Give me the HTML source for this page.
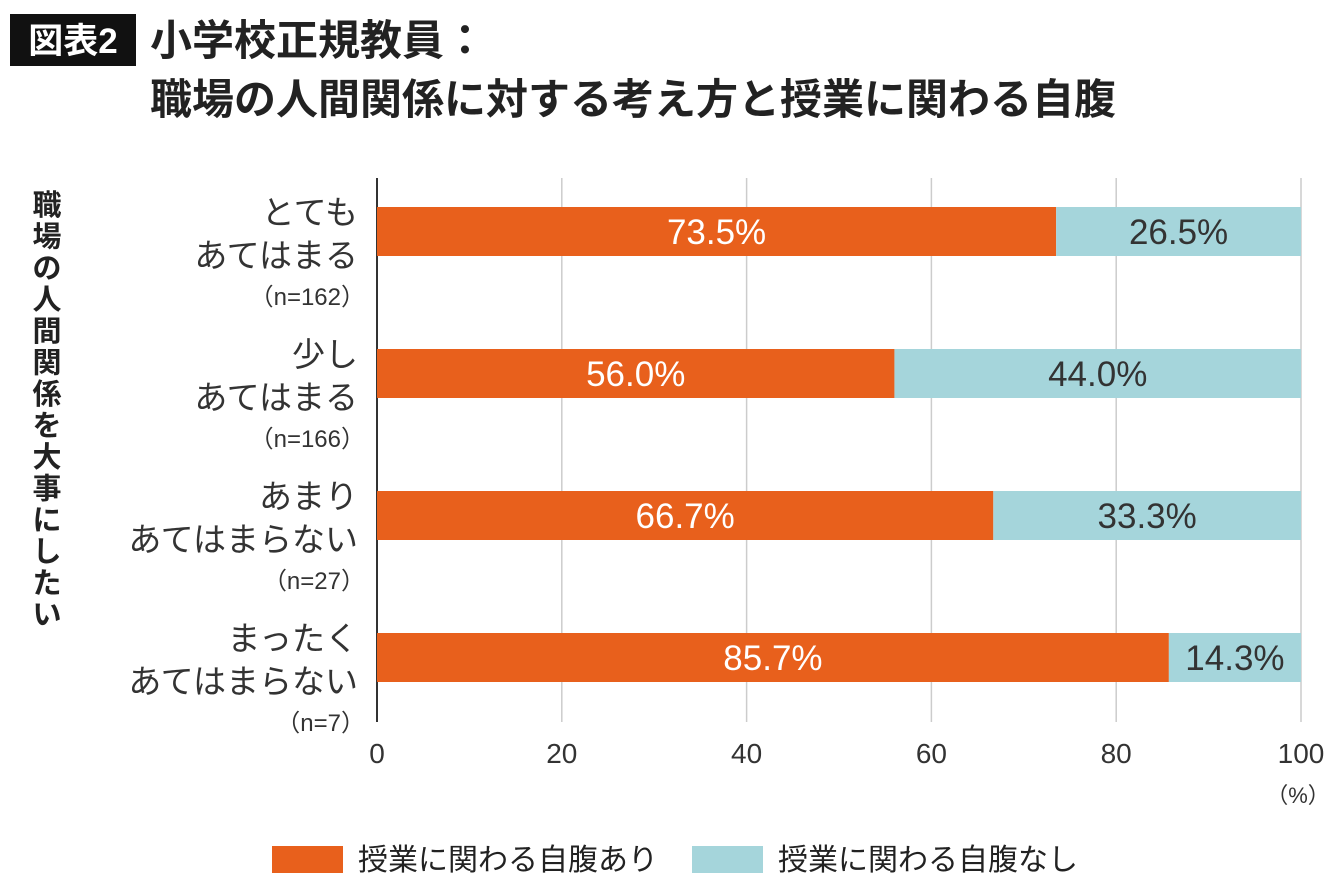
<!DOCTYPE html>
<html><head><meta charset="utf-8">
<style>
body{margin:0;background:#fff;width:1340px;height:887px;overflow:hidden;font-family:"Liberation Sans","Noto Sans CJK JP",sans-serif;}
svg text{font-family:"Liberation Sans","Noto Sans CJK JP",sans-serif;}
</style></head><body>
<svg width="1340" height="887">
<rect x="10" y="14" width="126" height="52" fill="#111"/>
<text x="73" y="53" fill="#fff" font-size="35" font-weight="bold" text-anchor="middle">図表2</text>
<text x="150" y="55" fill="#222" font-size="42" font-weight="bold">小学校正規教員：</text>
<text x="150" y="114" fill="#222" font-size="42" font-weight="bold">職場の人間関係に対する考え方と授業に関わる自腹</text>
<g id="ytitle"></g>
<g id="grid"></g><g id="bars"></g><g id="labels"></g><g id="ticks"></g>
<text x="1298" y="803" font-size="22" fill="#333" text-anchor="middle">（%）</text>
<rect x="272" y="846" width="71" height="27" fill="#E8601C"/>
<text x="358" y="870" font-size="30" fill="#222">授業に関わる自腹あり</text>
<rect x="692" y="846" width="71" height="27" fill="#A5D5DB"/>
<text x="778" y="870" font-size="30" fill="#222">授業に関わる自腹なし</text>
</svg>
<script>
const categoriesLine1=["とても","少し","あまり","まったく"];
const categoriesLine2=["あてはまる","あてはまる","あてはまらない","あてはまらない"];
const sampleSizes=["（n=162）","（n=166）","（n=27）","（n=7）"];
const yesValues=[73.5,56.0,66.7,85.7];
const noValues=[26.5,44.0,33.3,14.3];
const xTicks=[0,20,40,60,80,100];
const NS="http://www.w3.org/2000/svg";
const x=v=>377+v*9.24;
const rowY=i=>207+i*142;
function mk(tag,attrs,parent,txt){const e=document.createElementNS(NS,tag);for(const k in attrs)e.setAttribute(k,attrs[k]);if(txt!==undefined)e.textContent=txt;document.getElementById(parent).appendChild(e);return e;}
xTicks.forEach(t=>{
 const l=mk('line',{x1:x(t),x2:x(t),y1:178,y2:722,stroke:t===0?'#333':'#ccc','stroke-width':t===0?2:1.5},'grid');
 
 
 const tx=mk('text',{x:x(t),y:763,'font-size':28,fill:'#333','text-anchor':'middle'},'ticks',String(t));
 
 
});
yesValues.forEach((v,i)=>{
 const y=rowY(i),h=49;
 const a=mk('rect',{x:x(0),y:y,width:x(v)-x(0),height:h,fill:'#E8601C'},'bars');
 
 
 const n=noValues[i];
 const b=mk('rect',{x:x(v),y:y,width:x(v+n)-x(v),height:h,fill:'#A5D5DB'},'bars');
 
 
 const t1=mk('text',{x:(x(0)+x(v))/2,y:y+37,'font-size':35,fill:'#fff','text-anchor':'middle'},'labels',v.toFixed(1)+'%');
 
 
 const t2=mk('text',{x:(x(v)+x(v+n))/2,y:y+37,'font-size':35,fill:'#333','text-anchor':'middle'},'labels',n.toFixed(1)+'%');
 
 
 const c1=mk('text',{x:358,y:y+17,'font-size':33,fill:'#333','text-anchor':'end'},'labels',categoriesLine1[i]);
 
 
 const c2=mk('text',{x:358,y:y+60,'font-size':33,fill:'#333','text-anchor':'end'},'labels',categoriesLine2[i]);
 
 
 const c3=mk('text',{x:365,y:y+98,'font-size':24,fill:'#333','text-anchor':'end'},'labels',sampleSizes[i]);
 
 
});
const yt="職場の人間関係を大事にしたい";
[...yt].forEach((ch,i)=>{
 const t=mk('text',{x:47,y:215+i*31.5,'font-size':29,'font-weight':'bold',fill:'#222','text-anchor':'middle'},'ytitle',ch);
 
 
});
</script>
</body></html>
